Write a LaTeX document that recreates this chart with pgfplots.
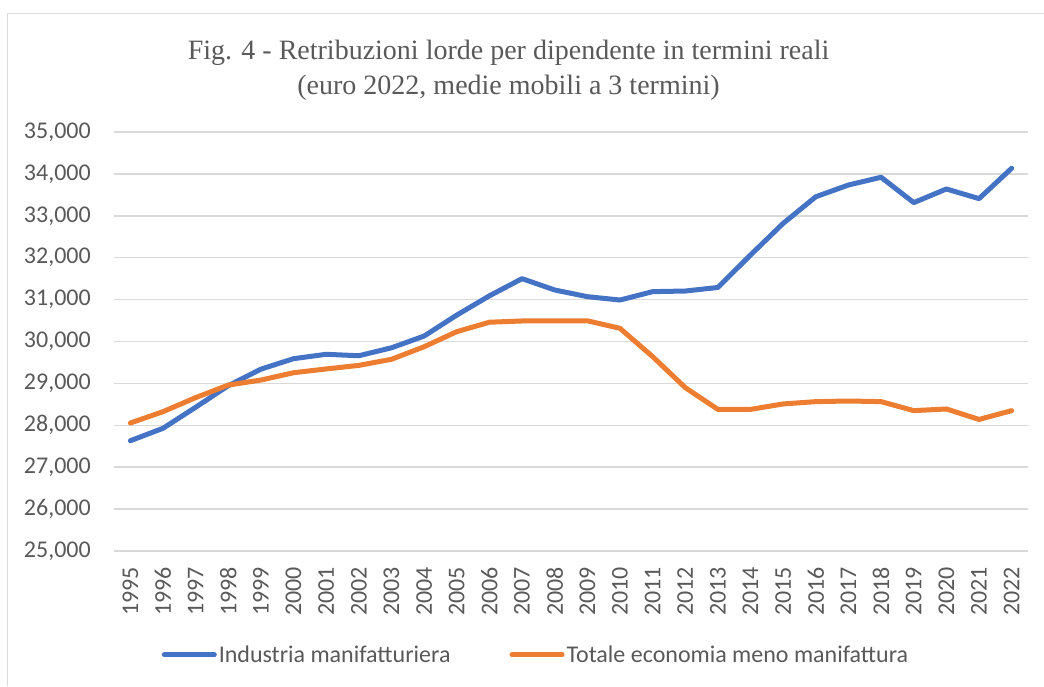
\documentclass[border=0pt]{standalone}
\usepackage{pgfplots}
\pgfplotsset{compat=1.18}
\usepackage{fontspec}
\setmainfont{Carlito}
\newfontfamily\titlefont{Liberation Serif}
\definecolor{tickgray}{HTML}{595959}
\definecolor{gridgray}{HTML}{D9D9D9}
\definecolor{xlblue}{HTML}{4472C4}
\definecolor{xlorange}{HTML}{ED7D31}
\begin{document}
\begin{tikzpicture}[x=1pt,y=1pt]
\path[use as bounding box] (0,0) rectangle (1044,-686);
\draw[gridgray, line width=1.5pt] (7.5,-686) -- (7.5,-13.3) -- (1044,-13.3);
\node[anchor=base, font=\titlefont\fontsize{28}{34}\selectfont, text=tickgray, inner sep=0pt] at (508.5,-59) {Fig. 4 - Retribuzioni lorde per dipendente in termini reali};
\node[anchor=base, font=\titlefont\fontsize{28}{34}\selectfont, text=tickgray, inner sep=0pt] at (508.5,-94) {(euro 2022, medie mobili a 3 termini)};
\begin{axis}[
  at={(114pt,-551pt)}, anchor=south west,
  scale only axis, width=914pt, height=419pt,
  xmin=1994.5, xmax=2022.5, ymin=25000, ymax=35000,
  xtick={1995,1996,...,2022},
  ytick={25000,26000,...,35000},
  scaled y ticks=false,
  axis line style={draw=none},
  major tick length=0pt,
  tick style={draw=none},
  ymajorgrids, grid style={gridgray, line width=1.5pt},
  /pgf/number format/assume math mode=true,
  font=\fontsize{24}{28}\selectfont,
  ticklabel style={text=tickgray, font=\fontsize{24}{28}\selectfont},
  yticklabel style={/pgf/number format/1000 sep={,}, anchor=east, inner sep=0pt},
  xticklabel style={/pgf/number format/1000 sep={}, rotate=90, anchor=east, inner sep=0pt},
  xticklabel shift={16pt},
  yticklabel shift={23pt},
  clip=false,
  legend columns=2,
  legend style={at={(0.4617,-0.248)}, anchor=center, draw=none, fill=none,
    inner sep=0pt, text=tickgray, font=\fontsize{24}{28}\selectfont,
    nodes={inner sep=2pt},
    /tikz/every even column/.append style={column sep=57pt}},
  legend image code/.code={\draw[#1, line width=5pt, line cap=round] (2.5pt,0pt) -- (52.5pt,0pt);},
  legend cell align=left,
]
\addplot[xlblue, line width=5pt, line join=round, line cap=round] coordinates {
(1995,27632) (1996,27928) (1997,28430) (1998,28945) (1999,29340) (2000,29590)
(2001,29695) (2002,29660) (2003,29850) (2004,30130) (2005,30630) (2006,31090)
(2007,31500) (2008,31230) (2009,31070) (2010,30990) (2011,31190) (2012,31205)
(2013,31290) (2014,32065) (2015,32820) (2016,33455) (2017,33735) (2018,33920)
(2019,33315) (2020,33640) (2021,33410) (2022,34135)
};
\addlegendentry{Industria manifatturiera}
\addplot[xlorange, line width=5pt, line join=round, line cap=round] coordinates {
(1995,28055) (1996,28325) (1997,28660) (1998,28960) (1999,29080) (2000,29255)
(2001,29345) (2002,29430) (2003,29575) (2004,29875) (2005,30235) (2006,30460)
(2007,30490) (2008,30490) (2009,30495) (2010,30315) (2011,29640) (2012,28900)
(2013,28380) (2014,28380) (2015,28510) (2016,28565) (2017,28580) (2018,28565)
(2019,28350) (2020,28390) (2021,28140) (2022,28350)
};
\addlegendentry{Totale economia meno manifattura}
\end{axis}
\end{tikzpicture}
\end{document}
